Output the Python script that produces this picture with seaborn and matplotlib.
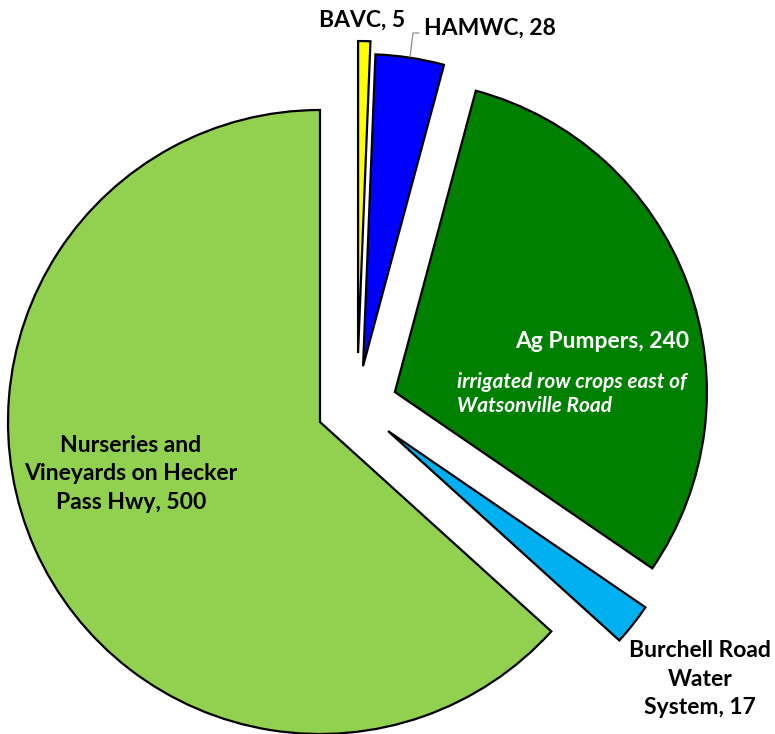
import matplotlib
matplotlib.use("Agg")
import matplotlib.pyplot as plt
import seaborn as sns

# Water users and their counts, clockwise from 12 o'clock
categories = ["BAVC", "HAMWC", "Ag Pumpers", "Burchell Road Water System",
              "Nurseries and Vineyards on Hecker Pass Hwy"]
values = [5, 28, 240, 17, 500]
colors = ["#FFFF00", "#0000FF", "#008000", "#00B0F0", "#92D050"]

# How far each slice is pulled away from the pie centre (radius units, x right / y up)
slice_offsets = [(0.122, 0.221), (0.138, 0.179), (0.240, 0.096), (0.218, -0.029), (0.0, 0.0)]

sns.set_theme(style="white")
plt.rcParams["font.family"] = ["Lato", "DejaVu Sans"]

W, H = 775, 734
fig = plt.figure(figsize=(W / 100, H / 100), dpi=100)
ax = fig.add_axes([0, 0, 1, 1])

wedges, _ = ax.pie(values, colors=colors, startangle=90, counterclock=False,
                   radius=1.0, center=(0, 0),
                   wedgeprops=dict(edgecolor="black", linewidth=1.6, joinstyle="miter"))
for w, (dx, dy) in zip(wedges, slice_offsets):
    w.set_center((dx, dy))

R = 312.0  # pie radius in pixels
cx, cy = 320.0, 422.0
ax.set_xlim(-cx / R, (W - cx) / R)
ax.set_ylim((cy - H) / R, cy / R)
ax.set_aspect("equal")
ax.axis("off")


def fx(px):
    return px / W


def fy(py):
    return 1 - py / H


lab = dict(fontweight="bold", color="black")
fs = 16.5

fig.text(fx(362), fy(20), f"{categories[0]}, {values[0]}", ha="center", va="center",
         fontsize=fs, **lab)
fig.text(fx(424), fy(28), f"{categories[1]}, {values[1]}", ha="left", va="center",
         fontsize=fs, **lab)
# leader line for the HAMWC label
fig.add_artist(plt.Line2D([fx(410), fx(413), fx(419)], [fy(57), fy(33), fy(33)],
                          color="#8c8c8c", linewidth=0.9))

fig.text(fx(689), fy(341), f"{categories[2]}, {values[2]}", ha="right", va="center",
         fontsize=fs, fontweight="bold", color="white")
fig.text(fx(457), fy(394), "irrigated row crops east of\nWatsonville Road", ha="left",
         va="center", fontsize=15, fontweight="bold", fontstyle="italic", color="white",
         linespacing=1.2)

fig.text(fx(131), fy(474), "Nurseries and\nVineyards on Hecker\nPass Hwy, " + str(values[4]),
         ha="center", va="center", fontsize=fs, linespacing=1.45, **lab)
fig.text(fx(700), fy(679), "Burchell Road\nWater\nSystem, " + str(values[3]),
         ha="center", va="center", fontsize=fs, linespacing=1.45, **lab)

fig.savefig("out.png", dpi=100, facecolor="white")
